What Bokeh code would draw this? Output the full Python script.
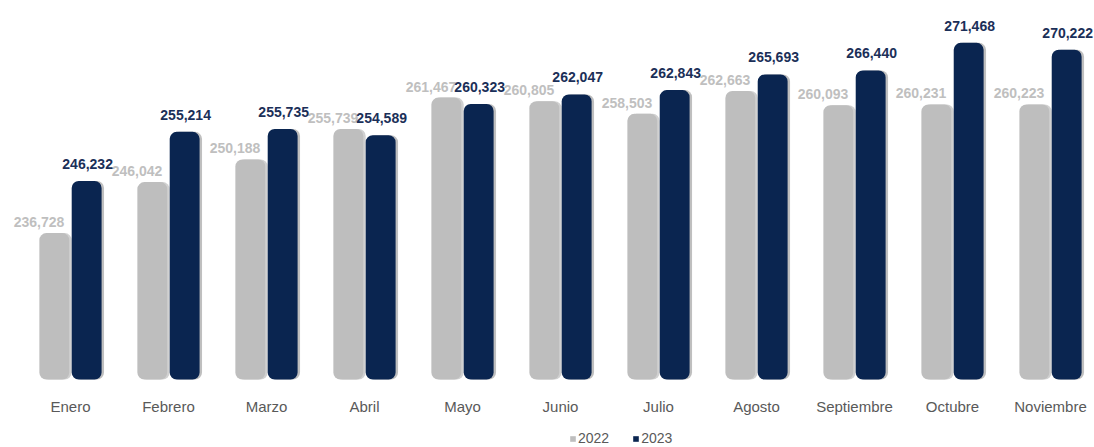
from bokeh.plotting import figure
from bokeh.models import ColumnDataSource, Range1d, Legend, LegendItem, LabelSet
from bokeh.core.properties import value
from bokeh.transform import dodge
from bokeh.embed import file_html
from bokeh.resources import INLINE

months = ["Enero", "Febrero", "Marzo", "Abril", "Mayo", "Junio", "Julio",
          "Agosto", "Septiembre", "Octubre", "Noviembre"]
v2022 = [236728, 246042, 250188, 255739, 261467, 260805, 258503, 262663, 260093, 260231, 260223]
v2023 = [246232, 255214, 255735, 254589, 260323, 262047, 262843, 265693, 266440, 271468, 270222]

FONT = "Liberation Sans"
GRAY = "#BEBEBE"
NAVY = "#0A2550"
BASE = 210000

n = len(months)
PX = 98.0  # pixels per category
bw = 0.305
off = 0.165

src = ColumnDataSource(dict(
    x=list(range(n)),
    m=months,
    base=[BASE] * n,
    v22=v2022, v23=v2023,
    l22=[f"{v:,}" for v in v2022],
    l23=[f"{v:,}" for v in v2023],
))

p = figure(width=1094, height=447, output_backend="svg", toolbar_location=None,
           x_range=Range1d(-0.714, 10.449), y_range=Range1d(197585, 279200),
           min_border_left=0, min_border_right=0, min_border_top=0, min_border_bottom=0)
p.outline_line_color = None
p.grid.visible = False
p.axis.visible = False

# shadows
p.vbar(x=dodge("x", -off + 0.025, range=p.x_range), top="v22", bottom=BASE, width=bw,
       source=src, fill_color="#7a7a7a", fill_alpha=0.35, line_color=None, border_radius=7)
p.vbar(x=dodge("x", off + 0.025, range=p.x_range), top="v23", bottom=BASE, width=bw,
       source=src, fill_color="#000000", fill_alpha=0.25, line_color=None, border_radius=7)

r22 = p.vbar(x=dodge("x", -off, range=p.x_range), top="v22", bottom=BASE, width=bw,
             source=src, fill_color=GRAY, line_color=None, border_radius=7)
r23 = p.vbar(x=dodge("x", off, range=p.x_range), top="v23", bottom=BASE, width=bw,
             source=src, fill_color=NAVY, line_color=None, border_radius=7)

lab22 = LabelSet(x="x", y="v22", text="l22", source=src,
                 x_offset=(-off + bw / 2) * PX - 5, y_offset=6,
                 text_align="right", text_baseline="alphabetic",
                 text_font=value(FONT), text_font_size="14px", text_font_style="bold",
                 text_color="#BFBFBF")
p.add_layout(lab22)

lab23 = LabelSet(x="x", y="v23", text="l23", source=src,
                 x_offset=off * PX + 1, y_offset=12, text_align="center", text_baseline="alphabetic",
                 text_font=value(FONT), text_font_size="14px", text_font_style="bold",
                 text_color="#1B2F58")
p.add_layout(lab23)

# category labels (x axis)
labm = LabelSet(x="x", y="base", text="m", source=src,
                y_offset=-32, text_align="center", text_baseline="alphabetic",
                text_font=value(FONT), text_font_size="15px", text_color="#595959")
p.add_layout(labm)

legend = Legend(items=[LegendItem(label="2022", renderers=[r22]),
                       LegendItem(label="2023", renderers=[r23])],
                orientation="horizontal", location=(569, 1),
                label_text_font=FONT, label_text_font_size="14px", label_text_color="#595959",
                glyph_width=7, glyph_height=7, label_standoff=2, spacing=23,
                padding=0, margin=0, border_line_color=None, background_fill_alpha=0,
                label_height=14)
p.add_layout(legend)

open("out.html", "w").write(file_html(p, INLINE))
